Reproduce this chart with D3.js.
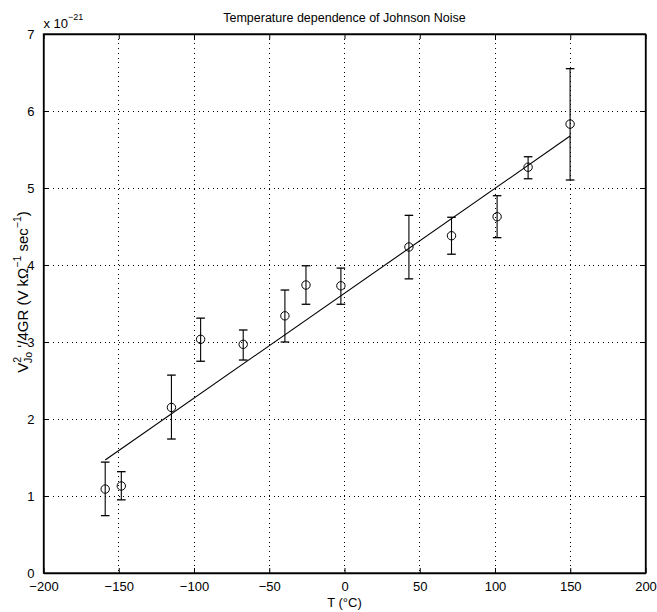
<!DOCTYPE html>
<html>
<head>
<meta charset="utf-8">
<script src="https://cdn.jsdelivr.net/npm/d3@7"></script>
<style>
  body { margin: 0; background: #fff; }
  text { font-family: "Liberation Sans", Arial, sans-serif; fill: #000; }
</style>
</head>
<body>
<div id="chart"></div>
<script>
// temperature (deg C) and measured V^2/4GR (units of 1e-21)
let temps = [-159, -148.3, -115, -95.6, -67.3, -39.6, -25.6, -2.4, 42.8, 71.1, 101.4, 122, 149.9];
let values = [1.09, 1.13, 2.15, 3.035, 2.97, 3.34, 3.74, 3.73, 4.234, 4.38, 4.627, 5.27, 5.83];
let errLow = [0.745, 0.95, 1.74, 2.75, 2.766, 3.0, 3.49, 3.49, 3.82, 4.14, 4.355, 5.12, 5.104];
let errHigh = [1.44, 1.316, 2.57, 3.31, 3.156, 3.675, 3.99, 3.96, 4.645, 4.62, 4.90, 5.406, 6.55];
// linear fit, drawn between its two end points
let fitX = [-159, 149.9];
let fitY = [1.467, 5.675];

let xTicks = [-200, -150, -100, -50, 0, 50, 100, 150, 200];
let yTicks = [0, 1, 2, 3, 4, 5, 6, 7];

let width = 657, height = 612;
let margin = {top: 34, right: 11.5, bottom: 39, left: 43.5};
let w = width - margin.left - margin.right;
let h = height - margin.top - margin.bottom;

let svg = d3.select("#chart").append("svg")
    .attr("width", width)
    .attr("height", height);

let g = svg.append("g")
    .attr("transform", "translate(" + margin.left + "," + margin.top + ")");

let x = d3.scaleLinear().domain([-200, 200]).range([0, w]);
let y = d3.scaleLinear().domain([0, 7]).range([h, 0]);

// dotted grid
g.append("g").selectAll("line")
    .data(xTicks.slice(1, -1))
    .enter().append("line")
    .attr("x1", d => x(d)).attr("x2", d => x(d))
    .attr("y1", 0).attr("y2", h)
    .attr("stroke", "#000").attr("stroke-width", 1)
    .attr("stroke-dasharray", "1,3.7")
    .attr("shape-rendering", "crispEdges");
g.append("g").selectAll("line")
    .data(yTicks.slice(1, -1))
    .enter().append("line")
    .attr("y1", d => y(d)).attr("y2", d => y(d))
    .attr("x1", 0).attr("x2", w)
    .attr("stroke", "#000").attr("stroke-width", 1)
    .attr("stroke-dasharray", "1,3.7")
    .attr("shape-rendering", "crispEdges");

// axes with inward ticks
let fmt = d => d < 0 ? "\u2212" + Math.abs(d) : "" + d;
g.append("g")
    .attr("transform", "translate(0," + h + ")")
    .call(d3.axisBottom(x).tickValues(xTicks).tickSizeInner(-5).tickSizeOuter(0).tickPadding(9).tickFormat(fmt));
g.append("g")
    .call(d3.axisLeft(y).tickValues(yTicks).tickSizeInner(-5).tickSizeOuter(0).tickPadding(9).tickFormat(fmt));
g.append("g")
    .call(d3.axisTop(x).tickValues(xTicks).tickSizeInner(-5).tickSizeOuter(0).tickFormat(""));
g.append("g")
    .attr("transform", "translate(" + w + ",0)")
    .call(d3.axisRight(y).tickValues(yTicks).tickSizeInner(-5).tickSizeOuter(0).tickFormat(""));

g.selectAll(".domain").attr("stroke", "#000").attr("stroke-width", 1.3);
g.selectAll(".tick line").attr("stroke", "#000");
g.selectAll(".tick text").attr("font-size", 13).attr("font-family", "Liberation Sans, Arial, sans-serif");

g.append("rect")
    .attr("width", w).attr("height", h)
    .attr("fill", "none").attr("stroke", "#000").attr("stroke-width", 1.3);

// fit line
g.append("line")
    .attr("x1", x(fitX[0])).attr("y1", y(fitY[0]))
    .attr("x2", x(fitX[1])).attr("y2", y(fitY[1]))
    .attr("stroke", "#000").attr("stroke-width", 1.1);

// error bars and markers
let pts = temps.map((t, i) => ({t: t, v: values[i], lo: errLow[i], hi: errHigh[i]}));
let cap = 4.3;
let eb = g.append("g").selectAll("g").data(pts).enter().append("g");
eb.append("line")
    .attr("x1", d => x(d.t)).attr("x2", d => x(d.t))
    .attr("y1", d => y(d.lo)).attr("y2", d => y(d.hi))
    .attr("stroke", "#000").attr("stroke-width", 1.1);
eb.append("line")
    .attr("x1", d => x(d.t) - cap).attr("x2", d => x(d.t) + cap)
    .attr("y1", d => y(d.lo)).attr("y2", d => y(d.lo))
    .attr("stroke", "#000").attr("stroke-width", 1.3);
eb.append("line")
    .attr("x1", d => x(d.t) - cap).attr("x2", d => x(d.t) + cap)
    .attr("y1", d => y(d.hi)).attr("y2", d => y(d.hi))
    .attr("stroke", "#000").attr("stroke-width", 1.3);
eb.append("circle")
    .attr("cx", d => x(d.t)).attr("cy", d => y(d.v))
    .attr("r", 4.2)
    .attr("fill", "none").attr("stroke", "#000").attr("stroke-width", 1);

// title
svg.append("text")
    .attr("x", margin.left + w / 2).attr("y", 22)
    .attr("text-anchor", "middle").attr("font-size", 12.5)
    .text("Temperature dependence of Johnson Noise");

// exponent label
let ex = svg.append("text")
    .attr("x", margin.left).attr("y", 28)
    .attr("font-size", 13);
ex.append("tspan").text("x 10");
ex.append("tspan").attr("dy", -8).attr("font-size", 9).text("\u221221");

// x label
svg.append("text")
    .attr("x", margin.left + w / 2).attr("y", 607)
    .attr("text-anchor", "middle").attr("font-size", 13)
    .text("T (\u00B0C)");

// y label
let yl = svg.append("text")
    .attr("transform", "translate(28,292) rotate(-90)")
    .attr("text-anchor", "middle").attr("font-size", 15);
yl.append("tspan").text("V");
yl.append("tspan").attr("dy", -7).attr("font-size", 10.5).text("2");
yl.append("tspan").attr("dx", -6).attr("dy", 11).attr("font-size", 10.5).text("Jo");
yl.append("tspan").attr("dy", -4).text(" '/4GR (V k\u03A9");
yl.append("tspan").attr("dy", -7).attr("font-size", 10.5).text("\u22121");
yl.append("tspan").attr("dy", 7).text(" sec");
yl.append("tspan").attr("dy", -7).attr("font-size", 10.5).text("\u22121");
yl.append("tspan").attr("dy", 7).text(")");
</script>
</body>
</html>
